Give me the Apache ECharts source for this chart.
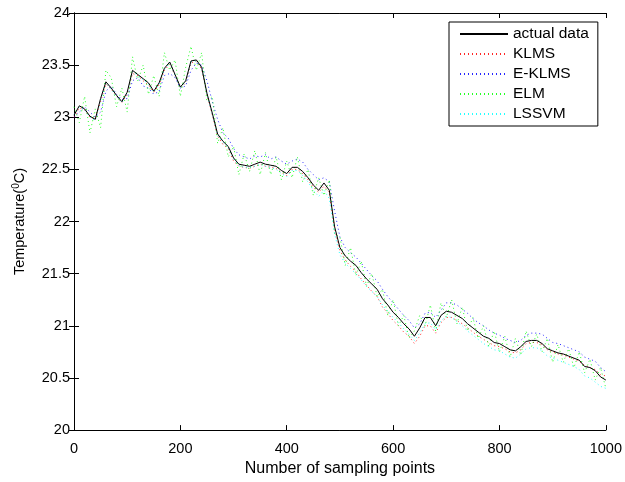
<!DOCTYPE html>
<html>
<head>
<meta charset="utf-8">
<script src="https://cdn.jsdelivr.net/npm/echarts@6/dist/echarts.min.js"></script>
<style>html,body{margin:0;padding:0;background:#fff}#c{width:625px;height:482px}</style>
</head>
<body>
<div id="c"></div>
<script>
// sample step of the read-off values (every 10th sampling point, 0..1000)
var step = 10;
var seriesNames = ['actual data', 'KLMS', 'E-KLMS', 'ELM', 'LSSVM'];
var xTicks = [0, 200, 400, 600, 800, 1000];
var yTicks = [20, 20.5, 21, 21.5, 22, 22.5, 23, 23.5, 24];

var actual = [23.02,23.11,23.08,23.01,22.98,23.18,23.34,23.28,23.21,23.15,
23.24,23.45,23.41,23.37,23.33,23.25,23.33,23.47,23.53,23.41,
23.29,23.35,23.54,23.55,23.48,23.23,23.04,22.84,22.77,22.72,
22.61,22.55,22.54,22.53,22.55,22.57,22.55,22.54,22.53,22.49,
22.46,22.52,22.52,22.48,22.42,22.35,22.30,22.37,22.30,21.95,
21.75,21.67,21.62,21.58,21.51,21.45,21.40,21.35,21.26,21.20,
21.13,21.08,21.02,20.97,20.90,20.98,21.08,21.08,21.00,21.10,
21.14,21.13,21.10,21.07,21.02,20.98,20.94,20.90,20.88,20.84,
20.83,20.80,20.77,20.76,20.80,20.85,20.86,20.86,20.83,20.78,
20.76,20.74,20.73,20.71,20.69,20.67,20.61,20.60,20.57,20.51,20.48];

var klms = [23.00,23.09,23.07,23.00,22.99,23.15,23.32,23.27,23.20,23.14,
23.22,23.42,23.40,23.35,23.31,23.24,23.31,23.45,23.51,23.40,
23.28,23.33,23.52,23.54,23.46,23.22,23.02,22.82,22.74,22.70,
22.58,22.53,22.52,22.51,22.53,22.55,22.53,22.52,22.51,22.47,
22.44,22.50,22.50,22.46,22.40,22.33,22.28,22.34,22.28,21.93,
21.72,21.63,21.57,21.52,21.45,21.39,21.33,21.28,21.18,21.12,
21.05,21.00,20.94,20.90,20.83,20.90,21.00,21.00,20.93,21.03,
21.08,21.08,21.05,21.02,20.98,20.94,20.90,20.87,20.84,20.81,
20.80,20.78,20.75,20.74,20.77,20.83,20.84,20.84,20.82,20.77,
20.75,20.73,20.72,20.70,20.68,20.66,20.62,20.60,20.58,20.53,20.52];

var eklms = [23.00,23.05,23.10,23.05,23.00,23.05,23.25,23.30,23.22,23.17,
23.18,23.35,23.38,23.30,23.28,23.22,23.25,23.40,23.42,23.38,
23.28,23.30,23.45,23.52,23.50,23.35,23.15,22.98,22.85,22.80,
22.70,22.64,22.62,22.60,22.63,22.62,22.64,22.60,22.62,22.58,
22.55,22.58,22.60,22.57,22.50,22.45,22.40,22.42,22.38,22.10,
21.85,21.75,21.70,21.66,21.60,21.54,21.48,21.43,21.35,21.28,
21.22,21.16,21.10,21.05,20.98,21.02,21.12,21.13,21.08,21.15,
21.22,21.22,21.20,21.16,21.12,21.07,21.03,21.00,20.96,20.93,
20.91,20.88,20.86,20.84,20.86,20.91,20.93,20.93,20.92,20.88,
20.84,20.83,20.81,20.79,20.77,20.75,20.70,20.68,20.66,20.60,20.56];

var elm = [23.10,22.95,23.20,22.85,23.08,22.90,23.45,23.38,23.10,23.28,
23.05,23.58,23.35,23.50,23.22,23.40,23.20,23.62,23.45,23.55,
23.20,23.48,23.68,23.45,23.62,23.15,23.20,22.75,22.90,22.62,
22.72,22.45,22.65,22.48,22.68,22.45,22.66,22.45,22.62,22.40,
22.58,22.42,22.62,22.38,22.50,22.25,22.42,22.25,22.40,21.88,
21.85,21.58,21.75,21.48,21.62,21.38,21.50,21.28,21.35,21.10,
21.25,21.00,21.10,20.88,20.95,21.10,21.00,21.20,20.95,21.22,
21.08,21.25,21.02,21.18,20.95,21.08,20.88,21.00,20.80,20.95,
20.75,20.90,20.70,20.88,20.72,20.95,20.80,20.92,20.75,20.88,
20.65,20.82,20.65,20.78,20.60,20.75,20.55,20.68,20.48,20.60,20.40];

var lssvm = [23.03,23.10,23.07,23.00,22.97,23.16,23.33,23.27,23.20,23.14,
23.23,23.44,23.40,23.36,23.32,23.24,23.32,23.46,23.52,23.40,
23.28,23.34,23.53,23.54,23.47,23.22,23.03,22.83,22.76,22.71,
22.60,22.54,22.52,22.52,22.53,22.55,22.53,22.52,22.50,22.46,
22.43,22.49,22.49,22.44,22.38,22.30,22.24,22.30,22.22,21.88,
21.68,21.60,21.55,21.50,21.44,21.38,21.33,21.28,21.20,21.14,
21.08,21.03,20.97,20.92,20.86,20.93,21.02,21.03,20.96,21.05,
21.09,21.08,21.04,21.00,20.95,20.91,20.87,20.83,20.80,20.77,
20.76,20.73,20.70,20.69,20.73,20.78,20.79,20.79,20.76,20.71,
20.69,20.67,20.65,20.63,20.61,20.58,20.52,20.50,20.46,20.42,20.40];

function pairs(vals) {
  return vals.map(function (v, i) { return [i * step, v]; });
}

var chart = echarts.init(document.getElementById('c'), null, {renderer: 'canvas'});
var font = 'Liberation Sans, Arial, Helvetica, sans-serif';
var axisCommon = {
  axisLine: {show: true, lineStyle: {color: '#000', width: 1}},
  axisTick: {show: true, inside: true, length: 5, lineStyle: {color: '#000'}},
  splitLine: {show: false}
};
function dotted(name, data, color) {
  return {
    name: name, type: 'line', data: pairs(data), symbol: 'none',
    lineStyle: {color: color, width: 1, type: [1, 3], opacity: 0.85},
    itemStyle: {color: color}, z: 2, animation: false
  };
}
chart.setOption({
  animation: false,
  grid: {left: 74, right: 19, top: 13, bottom: 48},
  legend: {
    orient: 'vertical', left: 449, top: 22,
    padding: [4, 9, 4, 10],
    itemWidth: 48, itemHeight: 14, itemGap: 4,
    borderColor: '#000', borderWidth: 1, backgroundColor: '#fff',
    itemStyle: {opacity: 0},
    textStyle: {fontFamily: font, fontSize: 15.5, color: '#000'},
    data: seriesNames
  },
  xAxis: [
    Object.assign({
      type: 'value', min: 0, max: 1000, interval: 200, position: 'bottom',
      name: 'Number of sampling points', nameLocation: 'middle', nameGap: 30,
      nameTextStyle: {fontFamily: font, fontSize: 16, color: '#000'},
      axisLabel: {fontFamily: font, fontSize: 14.5, color: '#000', margin: 11,
        formatter: function (v) { return xTicks.indexOf(v) >= 0 ? String(v) : ''; }}
    }, axisCommon),
    Object.assign({
      type: 'value', min: 0, max: 1000, interval: 200, position: 'top',
      axisLabel: {show: false}
    }, axisCommon)
  ],
  yAxis: [
    Object.assign({
      type: 'value', min: 20, max: 24, interval: 0.5, position: 'left',
      name: '{a|Temperature(}{s|0}{a|C)}', nameLocation: 'middle', nameGap: 46, nameRotate: 90,
      nameTextStyle: {fontFamily: font, fontSize: 14.5, color: '#000',
        rich: {a: {fontFamily: font, fontSize: 14.5, color: '#000'},
               s: {fontFamily: font, fontSize: 10, color: '#000', verticalAlign: 'top', padding: [0, 0, 7, 0]}}},
      axisLabel: {fontFamily: font, fontSize: 14.5, color: '#000', margin: 4,
        formatter: function (v) { return yTicks.indexOf(v) >= 0 ? String(v) : ''; }}
    }, axisCommon),
    Object.assign({
      type: 'value', min: 20, max: 24, interval: 0.5, position: 'right',
      axisLabel: {show: false}
    }, axisCommon)
  ],
  series: [
    {name: seriesNames[0], type: 'line', data: pairs(actual), symbol: 'none',
     lineStyle: {color: '#000', width: 1}, itemStyle: {color: '#000'}, z: 5},
    dotted(seriesNames[1], klms, '#ff0000'),
    dotted(seriesNames[2], eklms, '#0000ff'),
    dotted(seriesNames[3], elm, '#00ff00'),
    dotted(seriesNames[4], lssvm, '#00ffff')
  ]
});
</script>
</body>
</html>
